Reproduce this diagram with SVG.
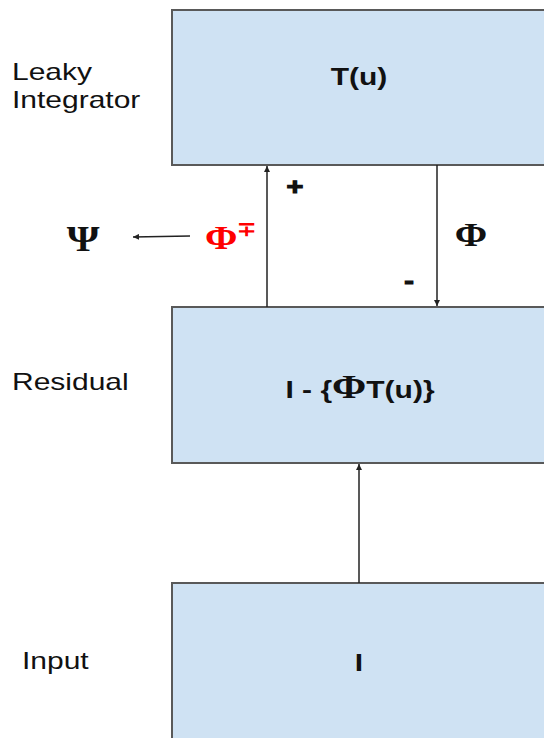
<svg xmlns="http://www.w3.org/2000/svg" width="544" height="738" viewBox="0 0 544 738">
  <style>
    .box { fill: #cfe2f3; stroke: #595959; stroke-width: 2; }
    .lbl { font-family: "Liberation Sans", Arial, sans-serif; font-size: 24px; fill: #111; }
    .eq { font-family: "Liberation Sans", Arial, sans-serif; font-size: 24px; font-weight: bold; fill: #111; }
    .sign { stroke: #111; stroke-width: 1.2; }
    .sym { font-family: "Liberation Serif", "Times New Roman", serif; font-weight: bold; fill: #111; }
    .red { fill: #ff0000; }
    .wire { stroke: #222; stroke-width: 1.5; fill: none; marker-end: url(#head); }
  </style>
  <defs>
    <marker id="head" viewBox="0 0 10 10" refX="10" refY="5" markerWidth="6" markerHeight="6" markerUnits="userSpaceOnUse" orient="auto">
      <path d="M0,0 L10,5 L0,10 z" fill="#222"/>
    </marker>
  </defs>
  <rect width="544" height="738" fill="#ffffff"/>

  <g id="leaky-integrator">
    <rect class="box" x="172" y="10" width="400" height="155"/>
    <text class="lbl" transform="translate(12,80) scale(1.25,1)">Leaky</text>
    <text class="lbl" transform="translate(12,108) scale(1.25,1)">Integrator</text>
    <text class="eq" text-anchor="middle" transform="translate(359,85) scale(1.25,1)">T(u)</text>
  </g>

  <g id="residual">
    <rect class="box" x="172" y="307" width="400" height="156"/>
    <text class="lbl" transform="translate(12,390) scale(1.25,1)">Residual</text>
    <text class="eq" text-anchor="middle" transform="translate(360,398) scale(1.25,1)">I - {<tspan class="sym" font-size="33">Φ</tspan>T(u)}</text>
  </g>

  <g id="input">
    <rect class="box" x="172" y="583" width="400" height="170"/>
    <text class="lbl" transform="translate(22,669) scale(1.25,1)">Input</text>
    <text class="eq" text-anchor="middle" transform="translate(359,671) scale(1.25,1)">I</text>
  </g>

  <g id="psi">
    <text class="sym" font-size="35" text-anchor="middle" transform="translate(83,251) scale(1.2,1)">Ψ</text>
  </g>

  <g id="connectors">
    <line class="wire" x1="267" y1="307" x2="267" y2="166"/>
    <line class="wire" x1="437" y1="165" x2="437" y2="306"/>
    <line class="wire" x1="359" y1="583" x2="359" y2="464"/>
    <line class="wire" x1="190" y1="236" x2="133" y2="237"/>
    <text class="eq sign" font-size="28" text-anchor="middle" transform="translate(295,195) scale(1.2,1)">+</text>
    <text class="eq sign" font-size="26" text-anchor="middle" transform="translate(409,289) scale(1.2,1)">-</text>
    <text class="sym red" font-size="34" transform="translate(205,249) scale(1.15,1)">Φ<tspan font-size="20" dy="-13">∓</tspan></text>
    <text class="sym" font-size="34" text-anchor="middle" transform="translate(471,246) scale(1.15,1)">Φ</text>
  </g>
</svg>
